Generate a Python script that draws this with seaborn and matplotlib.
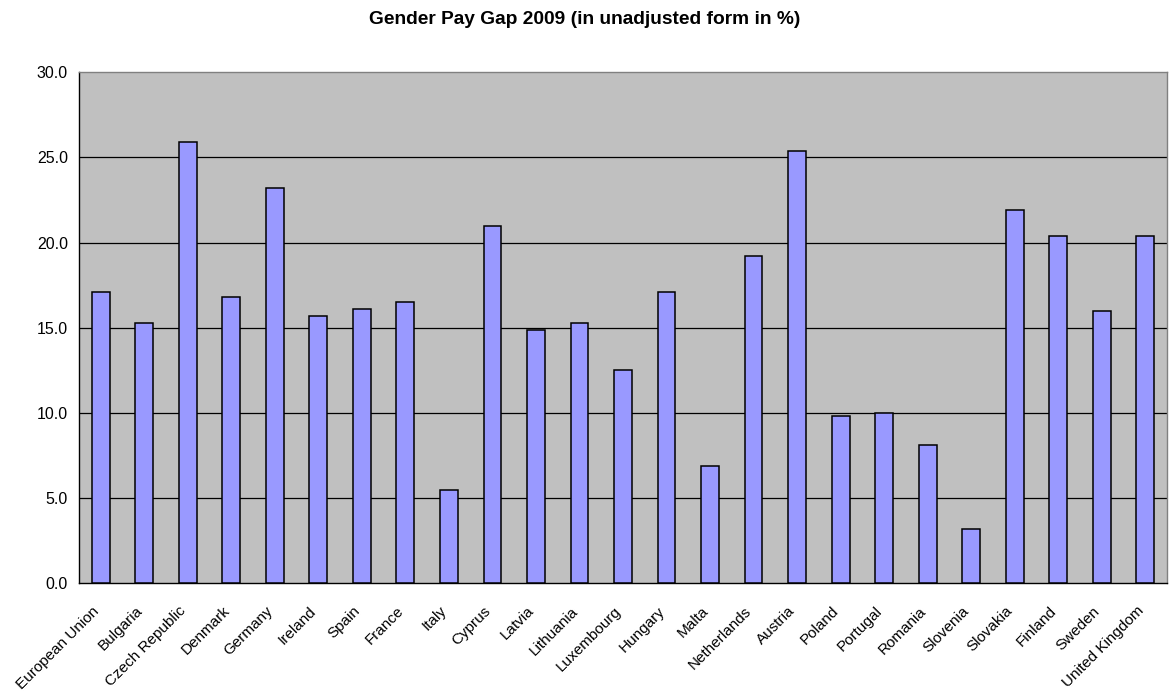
import numpy as np
import pandas as pd
import matplotlib
matplotlib.use("Agg")
import matplotlib.pyplot as plt
from matplotlib.transforms import ScaledTranslation
import seaborn as sns

countries = [
    "European Union", "Bulgaria", "Czech Republic", "Denmark", "Germany",
    "Ireland", "Spain", "France", "Italy", "Cyprus", "Latvia", "Lithuania",
    "Luxembourg", "Hungary", "Malta", "Netherlands", "Austria", "Poland",
    "Portugal", "Romania", "Slovenia", "Slovakia", "Finland", "Sweden",
    "United Kingdom",
]
pay_gap = [
    17.1, 15.3, 25.9, 16.8, 23.2, 15.7, 16.1, 16.5, 5.5, 21.0, 14.9, 15.3,
    12.5, 17.1, 6.9, 19.2, 25.4, 9.8, 10.0, 8.1, 3.2, 21.9, 20.4, 16.0, 20.4,
]
y_ticks = [0, 5, 10, 15, 20, 25, 30]

df = pd.DataFrame({"country": countries, "gap": pay_gap})

sns.set_theme(style="white")
plt.rcParams["font.family"] = ["Liberation Sans", "DejaVu Sans"]
plt.rcParams["text.color"] = "black"
plt.rcParams["xtick.color"] = "black"
plt.rcParams["ytick.color"] = "black"
plt.rcParams["axes.labelcolor"] = "black"

fig = plt.figure(figsize=(11.70, 6.95), dpi=100)
ax = fig.add_axes([79 / 1170, 1 - 583.3 / 695, (1167 - 79) / 1170, (583.3 - 72.3) / 695])
ax.set_facecolor("#C0C0C0")

sns.barplot(data=df, x="country", y="gap", color="#9999FF", saturation=1,
            width=0.41, edgecolor="black", linewidth=1.1, ax=ax, zorder=3)

n = len(countries)
ax.set_xlim(-0.5, n - 0.5)
ax.set_ylim(0, 30)
ax.set_yticks(y_ticks)
ax.set_yticklabels([f"{v:.1f}" for v in y_ticks], fontsize=11.5)

for v in y_ticks[1:-1]:
    ax.axhline(v, color="black", linewidth=0.9, zorder=1)

# category labels centred under bars, tick marks at category boundaries
ax.set_xticks(range(n))
ax.set_xticklabels(countries, rotation=45, ha="right", rotation_mode="anchor", fontsize=11)
ax.set_xticks(np.arange(-0.5, n, 1.0), minor=True)
ax.tick_params(axis="x", which="major", length=0, pad=9)
ax.tick_params(axis="x", which="minor", length=5, width=0.9, color="black", direction="out")
ax.tick_params(axis="y", which="major", length=5, width=0.9, color="black", direction="out", pad=3)

# nudge the slanted labels down-left so they end just left of each bar
shift = ScaledTranslation(-9 / 100, -8 / 100, fig.dpi_scale_trans)
for lbl in ax.get_xticklabels():
    lbl.set_transform(lbl.get_transform() + shift)

ax.set_xlabel("")
ax.set_ylabel("")

for side in ("left", "bottom"):
    ax.spines[side].set_color("black")
    ax.spines[side].set_linewidth(1.0)
for side in ("top", "right"):
    ax.spines[side].set_color("#808080")
    ax.spines[side].set_linewidth(1.0)
    ax.spines[side].set_visible(True)

fig.text(0.5, 1 - 19 / 695, "Gender Pay Gap 2009 (in unadjusted form in %)",
         ha="center", va="center", fontsize=13.8, fontweight="bold", color="black")

fig.savefig("out.png", dpi=100)
